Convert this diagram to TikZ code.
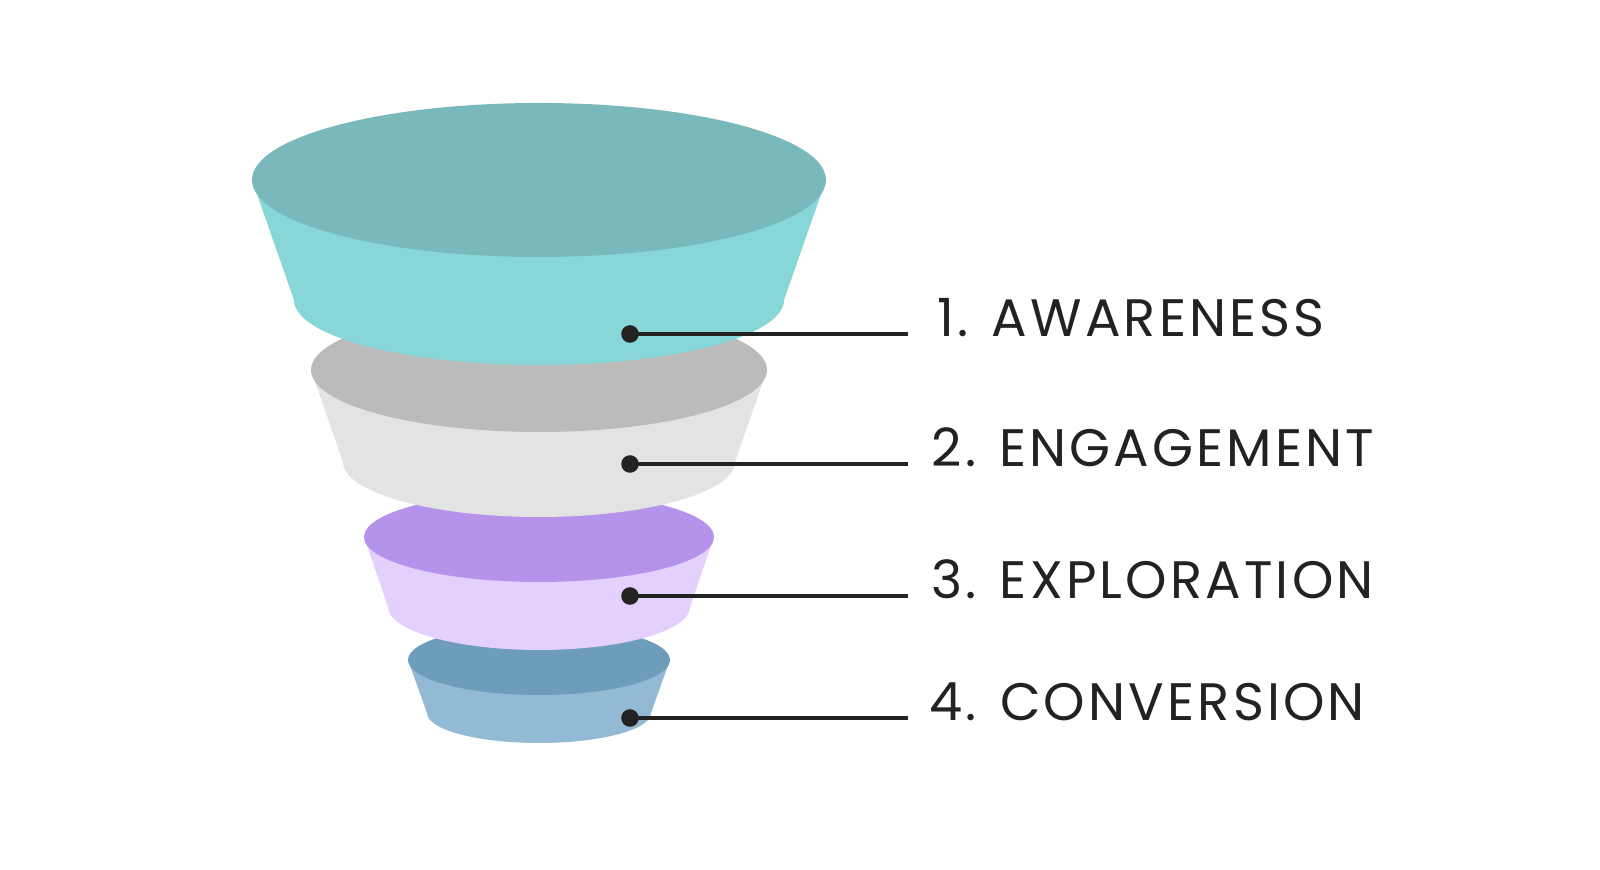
\documentclass[tikz,border=0pt]{standalone}
\usepackage{fontspec}
\setmainfont{Poppins}[LetterSpace=6]
\definecolor{rimA}{HTML}{7AB9BB}\definecolor{bodyA}{HTML}{87D7D8}
\definecolor{rimB}{HTML}{BBBBBB}\definecolor{bodyB}{HTML}{E3E3E3}
\definecolor{rimC}{HTML}{B693EA}\definecolor{bodyC}{HTML}{E3D0FC}
\definecolor{rimD}{HTML}{6D9DBA}\definecolor{bodyD}{HTML}{93BAD4}
\definecolor{ink}{HTML}{222222}
% one funnel layer: #1 top y, #2 top rx, #3 top ry, #4 bottom y, #5 bottom rx, #6 bottom ry, #7 rim, #8 body
\newcommand{\funnellayer}[8]{%
  \fill[#8] (5.39-#2,#1) -- (5.39-#5,#4)
    arc[start angle=180,end angle=360,x radius=#5,y radius=#6]
    -- (5.39+#2,#1) -- cycle;
  \fill[#7] (5.39,#1) ellipse[x radius=#2,y radius=#3];}
\tikzset{
  stage/.style={anchor=base west,font=\fontsize{15}{18}\selectfont,text=ink,inner sep=0pt},
  leader/.style={ink,line width=0.9pt},
  pin/.style={circle,fill=ink,inner sep=0pt,minimum size=5pt}
}
\begin{document}
\begin{tikzpicture}
    \useasboundingbox (0,0) rectangle (16,8.7);
    % Layers, bottom first
    \funnellayer{2.10}{1.31}{0.35}{1.57}{1.12}{0.30}{rimD}{bodyD}
    \funnellayer{3.33}{1.75}{0.45}{2.63}{1.51}{0.43}{rimC}{bodyC}
    \funnellayer{5.00}{2.28}{0.62}{4.08}{1.96}{0.55}{rimB}{bodyB}
    \funnellayer{6.90}{2.87}{0.77}{5.70}{2.45}{0.65}{rimA}{bodyA}
    % Pins and labels
    \node[pin] (p1) at (6.30,5.36) {};
    \node[pin] (p2) at (6.30,4.06) {};
    \node[pin] (p3) at (6.30,2.74) {};
    \node[pin] (p4) at (6.30,1.52) {};
    \coordinate (e1) at (9.08,5.36);
    \coordinate (e2) at (9.08,4.06);
    \coordinate (e3) at (9.08,2.74);
    \coordinate (e4) at (9.08,1.52);
    \node[stage] (l1) at (9.37,5.33) {1. AWARENESS};
    \node[stage] (l2) at (9.31,4.03) {2. ENGAGEMENT};
    \node[stage] (l3) at (9.31,2.71) {3. EXPLORATION};
    \node[stage] (l4) at (9.29,1.49) {4. CONVERSION};
    \foreach \i in {1,...,4}
        \draw[leader] (p\i.center) -- (e\i);
\end{tikzpicture}
\end{document}
